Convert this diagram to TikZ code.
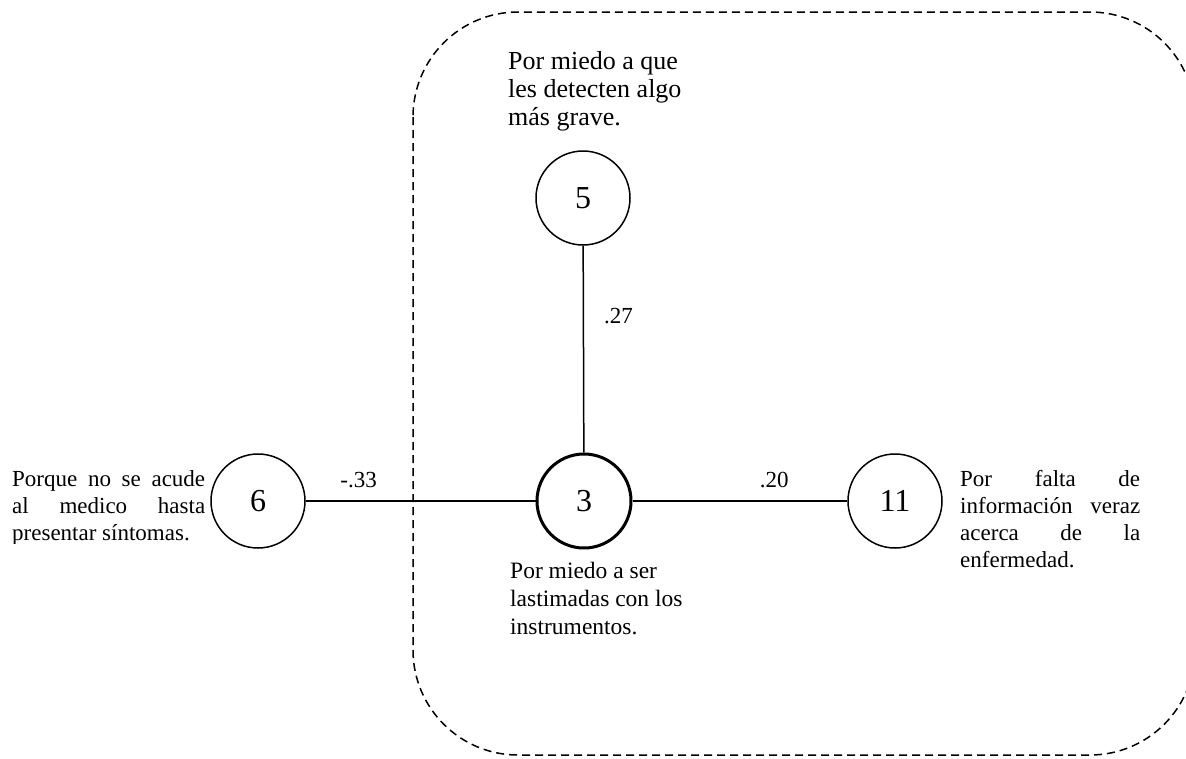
\documentclass[tikz,border=0pt]{standalone}
\usepackage{fontspec}
\setmainfont{Liberation Serif}
\usetikzlibrary{positioning}

\newcommand{\fullline}[2]{\makebox[#1][s]{#2}}

\begin{document}
\begin{tikzpicture}[x=1pt, y=-1pt, font=\fontsize{23}{27}\selectfont,
    factor/.style={circle, draw, line width=1.5pt, minimum size=94pt, inner sep=0pt, font=\fontsize{32}{34}\selectfont},
    nota/.style={anchor=north west, inner sep=0pt, align=left},
    peso/.style={inner sep=0pt}]
        \useasboundingbox (0,0) rectangle (1186,758);
        \begin{scope}
          \clip (0,0) rectangle (1186,758);
          \draw[dash pattern=on 8pt off 5pt, line width=1.5pt, rounded corners=105pt] (413,12) rectangle (1195,755);
        \end{scope}

        \node[factor, line width=3pt] (N3) at (584,501) {3};
        \node[factor] (N5) at (583,198) {5};
        \node[factor] (N6) at (258,501) {6};
        \node[factor] (N11) at (895,501) {11};

        \node[nota, font=\fontsize{26}{28}\selectfont] (T5) at (508,51) {Por miedo a que\\les detecten algo\\más grave.};
        \node[nota, font=\fontsize{23.5}{28}\selectfont] (T3) at (510,562) {Por miedo a ser\\lastimadas con los\\instrumentos.};
        \begin{scope}
          \clip (0,400) rectangle (210,543);
          \node[nota] (T6) at (12,470) {\fullline{193pt}{Porque no se acude}\\\fullline{193pt}{al medico hasta}\\presentar síntomas.};
        \end{scope}
        \node[nota] (T11) at (960,470) {\fullline{180pt}{Por falta de}\\\fullline{180pt}{información veraz}\\\fullline{180pt}{acerca de la}\\enfermedad.};

        \draw[line width=1.5pt] (N5) to node[peso, pos=.34, right=20pt] {.27} (N3);
        \draw[line width=1.5pt] (N6) to node[peso, pos=.23, above=12pt] {-.33} (N3);
        \draw[line width=1.5pt] (N3) to node[peso, pos=.66, above=12pt] {.20} (N11);
      \end{tikzpicture}
\end{document}
